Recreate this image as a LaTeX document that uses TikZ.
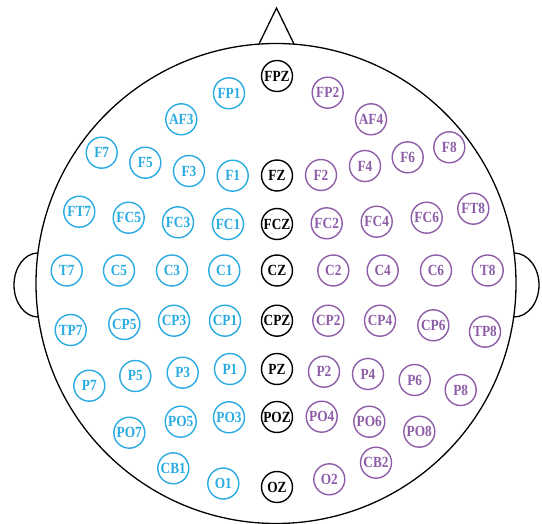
\documentclass[tikz,border=0pt]{standalone}
\usepackage{fontspec}
\setmainfont{Liberation Serif}
\newfontfamily\elecfont[FakeStretch=0.86]{Liberation Serif}
\definecolor{leftblue}{RGB}{41,171,226}
\definecolor{rightpurple}{RGB}{141,93,167}

\begin{document}
\begin{tikzpicture}[x=1pt, y=-1pt,
    electrode/.style={circle, draw, line width=1.4pt, minimum size=31pt, inner sep=0pt,
        font=\elecfont\fontsize{15.5}{15.5}\selectfont\bfseries},
    lefthem/.style={electrode, draw=leftblue, text=leftblue},
    righthem/.style={electrode, draw=rightpurple, text=rightpurple},
    midline/.style={electrode, draw=black, text=black},
    outline/.style={line width=1.3pt}]
    \useasboundingbox (0,0) rectangle (542,524);
    % Head, nose and ears
    \draw[outline] (276,283.5) circle[radius=240];
    \draw[outline, line join=miter] (259,44) -- (276.5,8) -- (294,44);
    \draw[outline] (38,253) arc[start angle=90, end angle=270, x radius=24pt, y radius=32pt];
    \draw[outline] (514,253) arc[start angle=90, end angle=-90, x radius=25pt, y radius=32pt];
    % Midline electrodes
    \node[midline] (FPZ) at (277,76) {FPZ};
    \node[midline] (FZ) at (277,175.5) {FZ};
    \node[midline] (FCZ) at (277,224) {FCZ};
    \node[midline] (CZ) at (277,270.5) {CZ};
    \node[midline] (CPZ) at (277,320.7) {CPZ};
    \node[midline] (PZ) at (277,369) {PZ};
    \node[midline] (POZ) at (277,417) {POZ};
    \node[midline] (OZ) at (277,487) {OZ};
    % Left hemisphere
    \node[lefthem] (FP1) at (229,93.3) {FP1};
    \node[lefthem] (AF3) at (181.3,119.3) {AF3};
    \node[lefthem] (F7) at (101.7,152.7) {F7};
    \node[lefthem] (F5) at (145.3,162.7) {F5};
    \node[lefthem] (F3) at (189,171) {F3};
    \node[lefthem] (F1) at (232.7,175.7) {F1};
    \node[lefthem] (FT7) at (79.3,211.7) {FT7};
    \node[lefthem] (FC5) at (128.7,217.7) {FC5};
    \node[lefthem] (FC3) at (178,222.3) {FC3};
    \node[lefthem] (FC1) at (228,224) {FC1};
    \node[lefthem] (T7) at (66.7,270.5) {T7};
    \node[lefthem] (C5) at (119,270.5) {C5};
    \node[lefthem] (C3) at (172,270.5) {C3};
    \node[lefthem] (C1) at (224.3,270.5) {C1};
    \node[lefthem] (TP7) at (70.7,330) {TP7};
    \node[lefthem] (CP5) at (124.3,324) {CP5};
    \node[lefthem] (CP3) at (174,320.7) {CP3};
    \node[lefthem] (CP1) at (225,320.7) {CP1};
    \node[lefthem] (P7) at (89.3,385.7) {P7};
    \node[lefthem] (P5) at (135.3,376) {P5};
    \node[lefthem] (P3) at (182.7,372.7) {P3};
    \node[lefthem] (P1) at (230,369) {P1};
    \node[lefthem] (PO7) at (129.3,432.7) {PO7};
    \node[lefthem] (PO5) at (180.7,421.7) {PO5};
    \node[lefthem] (PO3) at (229,417.3) {PO3};
    \node[lefthem] (CB1) at (173.3,468.3) {CB1};
    \node[lefthem] (O1) at (223.3,483.5) {O1};
    % Right hemisphere
    \node[righthem] (FP2) at (327.7,92.7) {FP2};
    \node[righthem] (AF4) at (371,119.3) {AF4};
    \node[righthem] (F2) at (321,175) {F2};
    \node[righthem] (F4) at (365,166) {F4};
    \node[righthem] (F6) at (407.7,157.3) {F6};
    \node[righthem] (F8) at (449.3,147.3) {F8};
    \node[righthem] (FC2) at (326.7,223.3) {FC2};
    \node[righthem] (FC4) at (376.7,221.7) {FC4};
    \node[righthem] (FC6) at (426.7,217.7) {FC6};
    \node[righthem] (FT8) at (473.3,208.7) {FT8};
    \node[righthem] (C2) at (333.3,270.5) {C2};
    \node[righthem] (C4) at (382.7,270.5) {C4};
    \node[righthem] (C6) at (436,270.5) {C6};
    \node[righthem] (T8) at (487.7,270.5) {T8};
    \node[righthem] (CP2) at (328.3,320.7) {CP2};
    \node[righthem] (CP4) at (380,320.7) {CP4};
    \node[righthem] (CP6) at (433.3,325.3) {CP6};
    \node[righthem] (TP8) at (485,331.7) {TP8};
    \node[righthem] (P2) at (324,371.7) {P2};
    \node[righthem] (P4) at (368,374) {P4};
    \node[righthem] (P6) at (414.7,380) {P6};
    \node[righthem] (P8) at (460.7,390) {P8};
    \node[righthem] (PO4) at (321.7,416.7) {PO4};
    \node[righthem] (PO6) at (369.3,421.7) {PO6};
    \node[righthem] (PO8) at (419.3,431.7) {PO8};
    \node[righthem] (CB2) at (376,462.7) {CB2};
    \node[righthem] (O2) at (329.3,479.3) {O2};
\end{tikzpicture}
\end{document}
